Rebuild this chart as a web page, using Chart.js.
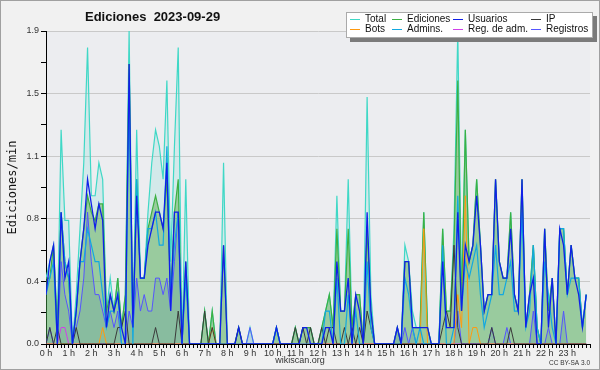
<!DOCTYPE html>
<html>
<head>
<meta charset="utf-8">
<script src="https://cdn.jsdelivr.net/npm/chart.js@4.4.1/dist/chart.umd.min.js"></script>
<style>
body { margin: 0; background: #f1f1f1; }
</style>
</head>
<body>
<canvas id="myChart" width="600" height="370"></canvas>
<script>
// edits per minute, one value every 10 minutes (144 per day)
var total = [0.4,0.5,0.6,0.1,1.3,0.75,0.75,0,0.3,0.7,1.1,1.8,
	0.9,0.9,1.1,1.0,0.2,0.4,0.2,0.4,0.1,0.3,1.9,0.1,
	1.3,0.4,0.4,0.8,1.1,1.3,1.2,1.0,1.6,0.5,1.2,1.8,
	0,1.0,0,0,0,0,0.2,0,0.2,0,0,1.1,
	0,0,0,0.1,0,0,0.1,0,0,0,0,0,
	0,0.1,0,0,0,0,0.1,0,0.1,0.1,0.1,0,
	0,0.1,0.2,0.3,0.1,0.9,0.2,0.2,1.0,0.1,0.3,0.3,
	0,1.5,0.3,0,0,0,0,0,0,0.1,0,0.6,
	0.5,0.2,0.1,0.1,0.8,0.1,0,0,0,0.7,0.2,0.2,
	0.7,1.9,0.3,1.3,0.5,0.6,1.0,0.6,0.2,0.3,0.3,1.0,
	0.5,0.4,0.4,0.8,0.3,0.2,1.0,0.1,0.3,0.6,0.1,0,
	0.7,0.2,0.4,0,0.7,0.7,0.3,0.6,0.4,0.4,0.1,0.3];
var ediciones = [0.4,0.4,0.6,0.1,0.8,0.5,0.4,0,0.2,0.5,0.7,0.9,
	0.8,0.75,0.85,0.85,0.2,0.3,0.2,0.4,0.1,0.3,1.7,0.1,
	1.0,0.4,0.4,0.7,0.8,0.9,0.8,0.7,1.0,0.3,0.8,1.0,
	0,0.5,0,0,0,0,0.2,0,0.2,0,0,0.6,
	0,0,0,0.1,0,0,0,0,0,0,0,0,
	0,0.1,0,0,0,0,0.1,0,0.1,0.1,0.1,0,
	0,0.1,0.2,0.3,0.1,0.7,0.2,0.2,0.7,0.1,0.3,0.3,
	0,0.7,0.2,0,0,0,0,0,0,0.1,0,0.5,
	0.5,0.1,0.1,0.1,0.8,0.1,0,0,0,0.7,0.2,0.2,
	0.6,1.6,0.2,1.3,0.5,0.6,1.0,0.6,0.2,0.3,0.3,1.0,
	0.5,0.4,0.4,0.8,0.3,0.2,1.0,0.1,0.3,0.6,0.1,0,
	0.7,0.2,0.4,0,0.7,0.7,0.3,0.6,0.4,0.4,0.1,0.3];
var usuarios = [0.3,0.5,0.6,0,0.8,0.4,0.5,0,0.2,0.5,0.7,1.0,
	0.85,0.7,0.85,0.75,0.1,0.3,0.2,0.3,0.1,0,1.7,0.1,
	0.9,0.4,0.4,0.6,0.7,0.8,0.8,0.7,1.1,0.2,0.8,0.8,
	0,0.5,0,0,0,0,0,0,0,0,0,0.6,
	0,0,0,0.1,0,0,0,0,0,0,0,0,
	0,0.1,0,0,0,0,0,0,0.1,0.1,0,0,
	0,0,0.1,0.1,0,0.5,0.2,0.2,0.4,0,0.3,0.2,
	0,0.8,0.2,0,0,0,0,0,0,0.1,0,0.5,
	0.5,0.1,0.1,0.1,0.1,0.1,0,0,0,0.5,0.1,0.1,
	0.1,0.8,0.2,0.6,0.5,0.6,0.9,0.6,0.2,0.3,0.3,1.0,
	0.5,0.4,0.4,0.7,0.3,0.2,1.0,0.1,0.3,0.4,0,0,
	0.7,0.1,0.4,0,0.7,0.6,0.3,0.6,0.4,0.3,0.1,0.3];
var ip = [0,0.1,0,0.1,0,0,0,0,0.1,0,0,0,
	0,0,0,0,0,0,0,0.1,0.1,0.2,0,0,
	0,0,0,0,0,0.1,0,0,0,0,0,0.2,
	0,0,0,0,0,0,0.2,0,0.1,0,0,0,
	0,0,0,0.1,0,0,0,0,0,0,0,0,
	0,0,0,0,0,0,0.1,0,0.1,0,0.1,0,
	0,0.1,0,0.1,0.1,0,0,0.1,0,0.1,0,0.1,
	0,0.2,0.1,0,0,0,0,0,0,0,0,0,
	0,0,0,0,0,0,0,0,0,0.1,0.2,0.1,
	0.6,0.1,0,0,0,0,0,0,0,0,0.1,0,
	0,0,0,0.1,0,0,0,0,0,0,0,0,
	0,0,0,0,0,0,0,0,0,0,0,0];
var bots = [0,0,0,0,0,0,0,0,0,0,0,0,
	0,0,0,0.1,0,0,0,0,0,0,0,0,
	0,0,0,0,0,0,0,0,0,0,0,0,
	0,0,0,0,0,0,0,0,0.1,0,0,0,
	0,0,0,0,0,0,0,0,0,0,0,0,
	0,0,0,0,0,0,0,0,0,0,0,0,
	0,0,0,0,0,0,0,0,0,0,0,0,
	0,0,0,0,0,0,0,0,0,0,0,0,
	0,0,0,0,0.7,0,0,0,0,0,0,0,
	0,0.3,0.1,0.9,0,0.1,0.1,0,0,0,0,0,
	0,0,0,0,0,0,0,0,0,0,0,0,
	0,0,0,0,0,0,0,0,0,0,0,0];
var admins = [0.3,0.4,0.5,0,0.8,0.5,0.4,0,0.2,0.5,0.5,0.7,
	0.6,0.5,0.5,0.3,0.1,0.2,0.2,0.3,0,0,1.5,0,
	1.0,0.4,0.4,0.7,0.7,0.8,0.6,0.6,1.2,0.3,0.6,0.8,
	0,0.4,0,0,0,0,0,0,0,0,0,0,
	0,0,0,0,0,0,0,0,0,0,0,0,
	0,0.1,0,0,0,0,0,0,0,0,0,0,
	0,0,0.2,0.2,0,0.4,0,0,0.3,0,0.2,0,
	0,0.5,0.1,0,0,0,0,0,0,0,0,0.4,
	0.3,0.1,0,0.1,0,0,0,0,0,0.6,0,0,
	0.1,0.9,0.2,0.5,0.4,0.5,0.6,0.3,0.1,0.2,0.3,0.6,
	0.3,0.3,0.4,0.5,0.2,0.2,0.8,0.1,0.2,0.6,0.1,0,
	0.5,0.3,0.1,0,0.7,0.7,0.3,0.4,0.4,0.4,0.1,0.3];
var regAdm = [0,0,0,0,0.1,0.1,0,0,0,0,0,0,
	0,0,0,0,0,0,0,0,0,0,0,0,
	0,0,0,0,0,0,0,0,0,0,0,0,
	0,0,0,0,0,0,0,0,0,0,0,0,
	0,0,0,0,0,0,0,0,0,0,0,0,
	0,0,0,0,0,0,0,0,0,0,0,0,
	0,0,0,0,0,0,0,0,0,0,0,0,
	0,0,0,0,0,0,0,0,0,0,0,0,
	0,0,0,0,0,0,0,0,0,0,0,0,
	0,0,0,0,0,0,0,0,0,0,0,0,
	0,0,0,0,0,0,0,0,0,0,0,0,
	0,0,0,0,0,0,0,0,0,0,0,0];
var registros = [0,0.1,0,0,0.5,0.3,0.2,0,0.1,0.2,0.4,0.8,
	0.5,0.3,0.3,0.2,0.1,0.2,0.1,0.2,0,0,0.2,0.1,
	0.4,0.2,0.3,0.2,0.2,0.4,0.4,0.3,0.4,0.2,0.5,0.8,
	0,0,0,0,0,0,0,0,0,0,0,0,
	0,0,0,0,0,0,0.1,0,0,0,0,0,
	0,0,0,0,0,0,0,0,0,0,0,0,
	0,0,0,0,0,0,0,0,0,0,0,0,
	0,0,0,0,0,0,0,0,0,0.1,0,0.1,
	0,0.1,0,0,0,0,0,0,0,0,0,0,
	0,0.2,0,0,0,0,0,0,0,0,0.1,0,
	0,0,0.1,0,0,0,0,0,0,0.2,0,0,
	0,0.1,0,0,0,0.2,0,0,0,0,0,0];

var labels = ['Total', 'Ediciones', 'Usuarios', 'IP', 'Bots', 'Admins.', 'Reg. de adm.', 'Registros'];
var titleText = 'Ediciones  2023-09-29';
var yTitle = 'Ediciones/min';
var yMax = 1.9;

var toPoints = function(arr){
	return arr.map(function(v, i){ return {x: i, y: v}; });
}

// y ticks every 0.19, labels only every second one
var yTicks = [];
for (var k = 0; k <= 10; k++) yTicks.push(Math.round(k * 19) / 100);
// x ticks every 10 minutes
var xTicks = [];
for (var k = 0; k <= 144; k++) xTicks.push(k);

var decor = {
	id: 'decor',
	beforeDraw: function(chart){
		var ctx = chart.ctx, a = chart.chartArea;
		ctx.save();
		ctx.fillStyle = '#f1f1f1';
		ctx.fillRect(0, 0, chart.width, chart.height);
		ctx.fillStyle = '#ecedf0';
		ctx.fillRect(a.left, a.top, a.right - a.left, a.bottom - a.top);
		ctx.restore();
	},
	afterDraw: function(chart){
		var ctx = chart.ctx;
		ctx.save();
		ctx.textBaseline = 'middle';
		ctx.textAlign = 'left';
		ctx.fillStyle = '#111';
		ctx.font = 'bold 13px "Liberation Sans"';
		ctx.fillText(titleText, 85, 17);

		// legend box with shadow
		ctx.fillStyle = '#7b7b7b';
		ctx.fillRect(350, 16, 247, 26);
		ctx.fillStyle = '#ffffff';
		ctx.fillRect(346, 12, 247, 26);
		ctx.strokeStyle = '#aaaaaa';
		ctx.lineWidth = 1;
		ctx.strokeRect(346.5, 12.5, 246, 25);
		var cols = [350, 392, 453, 531];
		ctx.font = '10px "Liberation Sans"';
		chart.data.datasets.forEach(function(ds, i){
			var x = cols[i % 4];
			var y = i < 4 ? 19.5 : 29.5;
			ctx.strokeStyle = ds.borderColor;
			ctx.lineWidth = 1;
			ctx.beginPath();
			ctx.moveTo(x, y);
			ctx.lineTo(x + 10, y);
			ctx.stroke();
			ctx.fillStyle = '#111';
			ctx.fillText(ds.label, x + 15, y);
		});

		ctx.fillStyle = '#333';
		ctx.textAlign = 'center';
		ctx.font = '9px "Liberation Sans"';
		ctx.fillText('wikiscan.org', 300, 361);
		ctx.textAlign = 'right';
		ctx.font = '6.5px "Liberation Sans"';
		ctx.fillText('CC BY-SA 3.0', 590, 363);

		ctx.strokeStyle = '#a0a0a0';
		ctx.strokeRect(0.5, 0.5, 599, 369);
		ctx.restore();
	}
};

var ctx = document.getElementById('myChart').getContext('2d');
var chart = new Chart(ctx, {
	type: 'line',
	data: {
		datasets: [{
			label: labels[0], data: toPoints(total), borderColor: '#3fd8c6',
			backgroundColor: 'rgba(63,216,198,0.14)', fill: '+1', borderWidth: 1.2, order: 7
		}, {
			label: labels[1], data: toPoints(ediciones), borderColor: '#3cb043',
			backgroundColor: 'rgba(70,170,75,0.5)', fill: 'origin', borderWidth: 1.2, order: 6
		}, {
			label: labels[2], data: toPoints(usuarios), borderColor: '#1020e8',
			fill: false, borderWidth: 1.3, order: 1
		}, {
			label: labels[3], data: toPoints(ip), borderColor: '#3a3a3a',
			fill: false, borderWidth: 1, order: 3
		}, {
			label: labels[4], data: toPoints(bots), borderColor: '#ff9a10',
			fill: false, borderWidth: 1, order: 4
		}, {
			label: labels[5], data: toPoints(admins), borderColor: '#12a8e0',
			fill: false, borderWidth: 1.2, order: 2
		}, {
			label: labels[6], data: toPoints(regAdm), borderColor: '#d040e8',
			fill: false, borderWidth: 1, order: 5
		}, {
			label: labels[7], data: toPoints(registros), borderColor: '#5555ff',
			backgroundColor: 'rgba(40,110,170,0.15)', fill: 'origin', borderWidth: 1, order: 5.5
		}]
	},
	options: {
		responsive: false,
		animation: false,
		layout: { padding: { left: 0, right: 10, top: 31, bottom: 0 } },
		elements: { point: { radius: 0 }, line: { tension: 0 } },
		plugins: {
			legend: { display: false },
			tooltip: { enabled: false },
			filler: { drawTime: 'beforeDatasetsDraw' }
		},
		scales: {
			x: {
				type: 'linear', min: 0, max: 144,
				afterBuildTicks: function(scale){ scale.ticks = xTicks.map(function(v){ return {value: v}; }); },
				afterFit: function(scale){ scale.height = 26; },
				ticks: {
					autoSkip: false, maxRotation: 0, minRotation: 0, padding: 0,
					color: '#333', font: { family: 'Liberation Sans', size: 9 },
					callback: function(v){ return (v % 6 === 0 && v < 144) ? (v / 6) + ' h' : ''; }
				},
				grid: { drawOnChartArea: false, tickLength: 4, tickColor: '#000' },
				border: { color: '#000', width: 1 }
			},
			y: {
				min: 0, max: yMax,
				afterBuildTicks: function(scale){ scale.ticks = yTicks.map(function(v){ return {value: v}; }); },
				afterFit: function(scale){ scale.width = 46; },
				ticks: {
					padding: 2, color: '#333', font: { family: 'Liberation Sans', size: 9 },
					callback: function(v, i){ return i % 2 === 0 ? v.toFixed(1) : ''; }
				},
				grid: {
					color: function(c){ return c.index % 2 === 0 ? '#c9c9c9' : 'rgba(0,0,0,0)'; },
					tickColor: '#000', tickLength: 5
				},
				border: { color: '#000', width: 1 },
				title: {
					display: true, text: yTitle, color: '#111', padding: { top: 6, bottom: 0 },
					font: { family: 'DejaVu Sans Mono', size: 12 }
				}
			}
		}
	},
	plugins: [decor]
});
</script>
</body>
</html>
